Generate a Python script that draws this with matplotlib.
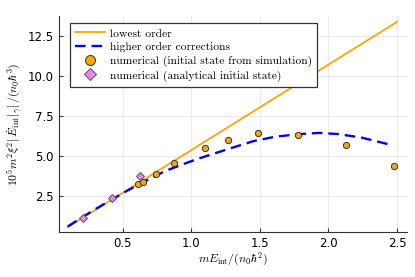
import matplotlib
matplotlib.use("Agg")
import matplotlib.pyplot as plt

# lowest order (straight line through the origin)
lo_x = [0.10, 2.50]
lo_y = [0.53, 13.36]

# higher order corrections
hi_x = [0.10, 0.20, 0.30, 0.40, 0.50, 0.60, 0.70, 0.81, 1.03, 1.25, 1.45, 1.61, 1.78, 1.93, 2.07, 2.24, 2.47]
hi_y = [0.57, 1.12, 1.65, 2.15, 2.65, 3.12, 3.56, 4.04, 4.75, 5.36, 5.90, 6.18, 6.34, 6.42, 6.35, 6.13, 5.64]

# numerical, initial state from simulation
sim_x = [0.609, 0.648, 0.740, 0.876, 1.100, 1.268, 1.488, 1.780, 2.128, 2.480]
sim_y = [3.21, 3.36, 3.84, 4.52, 5.46, 6.00, 6.42, 6.31, 5.67, 4.37]

# numerical, analytical initial state
ana_x = [0.208, 0.420, 0.626]
ana_y = [1.09, 2.34, 3.73]

xticks = [0.5, 1.0, 1.5, 2.0, 2.5]
yticks = [2.5, 5.0, 7.5, 10.0, 12.5]

plt.rcParams['mathtext.fontset'] = 'cm'

fig = plt.figure(figsize=(4.15, 2.77), dpi=100)
ax = fig.add_axes([0.142, 0.1625, 0.838, 0.78])

ax.plot(lo_x, lo_y, color='#FFA500', lw=1.3, label='lowest order')
ax.plot(hi_x, hi_y, color='#0000FF', lw=1.7, ls=(0, (4.5, 2.5)), label='higher order corrections')
ax.plot(sim_x, sim_y, 'o', ls='none', color='#FFA500', mec='#333333', mew=0.7, ms=4.5,
        label='numerical (initial state from simulation)')
ax.plot(ana_x, ana_y, 'D', ls='none', color='#EE82EE', mec='#555555', mew=0.7, ms=4,
        label='numerical (analytical initial state)')

ax.set_xlim(0.036, 2.57)
ax.set_ylim(0.23, 13.73)
ax.set_xticks(xticks)
ax.set_yticks(yticks)
ax.set_xticklabels([f'{t:.1f}' for t in xticks])
ax.set_yticklabels([f'{t:.1f}' for t in yticks])
ax.tick_params(direction='in', length=3, labelsize=8.5, color='#333333')
ax.grid(True, color='#e6e6e6', lw=0.6)
ax.set_axisbelow(True)
for s in ['top', 'right']:
    ax.spines[s].set_visible(False)
for s in ['left', 'bottom']:
    ax.spines[s].set_color('#333333')

ax.set_xlabel(r'$mE_{\rm int}/(n_0\hbar^2)$', fontsize=8.5, labelpad=1)
ax.set_ylabel(r'$10^5m^2\xi^2|\,\dot{E}_{\rm int}|_\gamma|\,/(n_0\hbar^3)$', fontsize=8.5, labelpad=2)

leg = ax.legend(loc='upper left', bbox_to_anchor=(0.0325, 0.966), borderaxespad=0,
                prop={'family': 'cmr10', 'size': 8.3}, fancybox=False, edgecolor='#333333',
                framealpha=1, handlelength=2.6, labelspacing=0.3, markerscale=1.6,
                borderpad=0.45, handletextpad=0.4)
leg.get_frame().set_linewidth(0.9)

fig.savefig('out.png', dpi=100)
